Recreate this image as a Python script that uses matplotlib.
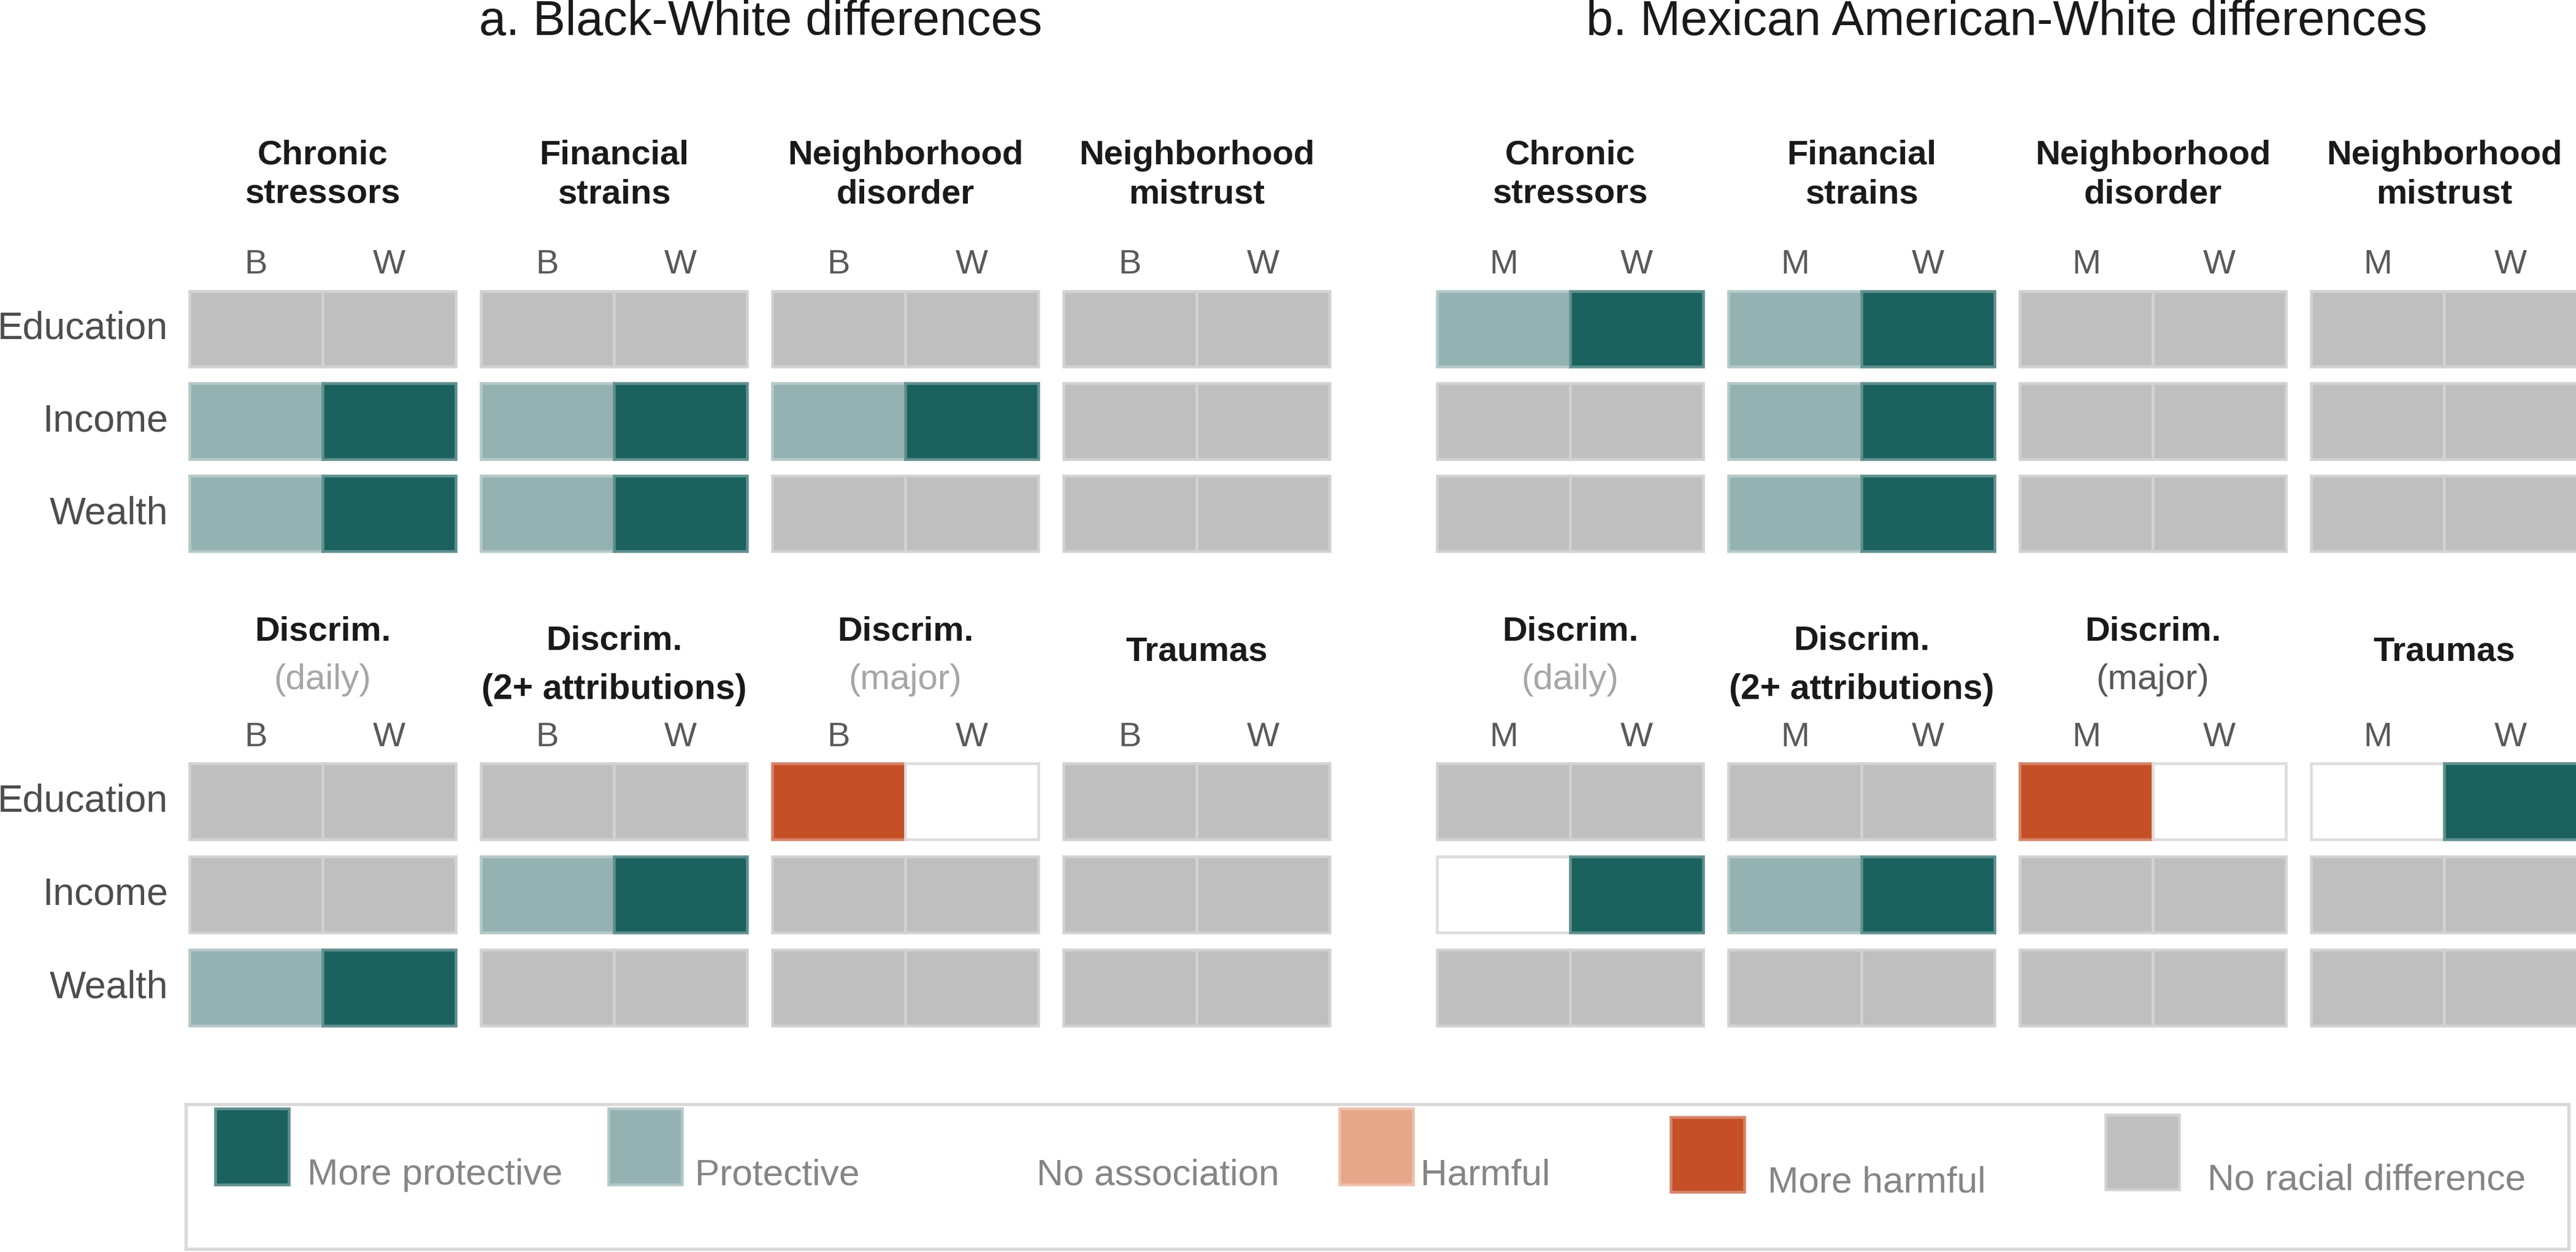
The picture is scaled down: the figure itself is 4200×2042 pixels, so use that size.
import matplotlib.pyplot as plt
import matplotlib.colors as mcolors

plt.rcParams['font.family'] = ['Liberation Sans', 'DejaVu Sans']

# legend categories
levels = ["mp", "p", "na", "h", "mh", "nd"]
level_labels = ["More protective", "Protective", "No association",
                "Harmful", "More harmful", "No racial difference"]
level_colors = ["#1B615E", "#94B2B1", "#FFFFFF", "#E5A68A", "#C54F27", "#BFBFBF"]

row_labels = ["Education", "Income", "Wealth"]
top_facets = ["Chronic\nstressors", "Financial\nstrains",
              "Neighborhood\ndisorder", "Neighborhood\nmistrust"]
bottom_titles = ["Discrim.", "Discrim.", "Discrim.", "Traumas"]
bottom_subtitles = ["(daily)", "(2+ attributions)", "(major)", ""]
panel_titles = ["a. Black-White differences",
                "b. Mexican American-White differences"]
bw_groups = ["B", "W"]
mw_groups = ["M", "W"]

# per facet: rows Education, Income, Wealth; columns minority group, White
bw_top = [
    [["nd", "nd"], ["p", "mp"], ["p", "mp"]],
    [["nd", "nd"], ["p", "mp"], ["p", "mp"]],
    [["nd", "nd"], ["p", "mp"], ["nd", "nd"]],
    [["nd", "nd"], ["nd", "nd"], ["nd", "nd"]],
]
bw_bottom = [
    [["nd", "nd"], ["nd", "nd"], ["p", "mp"]],
    [["nd", "nd"], ["p", "mp"], ["nd", "nd"]],
    [["mh", "na"], ["nd", "nd"], ["nd", "nd"]],
    [["nd", "nd"], ["nd", "nd"], ["nd", "nd"]],
]
mw_top = [
    [["p", "mp"], ["nd", "nd"], ["nd", "nd"]],
    [["p", "mp"], ["p", "mp"], ["p", "mp"]],
    [["nd", "nd"], ["nd", "nd"], ["nd", "nd"]],
    [["nd", "nd"], ["nd", "nd"], ["nd", "nd"]],
]
mw_bottom = [
    [["nd", "nd"], ["na", "mp"], ["nd", "nd"]],
    [["nd", "nd"], ["p", "mp"], ["nd", "nd"]],
    [["mh", "na"], ["nd", "nd"], ["nd", "nd"]],
    [["na", "mp"], ["nd", "nd"], ["nd", "nd"]],
]

W, H = 4200, 2042
fig = plt.figure(figsize=(W / 300, H / 300), dpi=300)


def tint(c, f):
    r, g, b = mcolors.to_rgb(c)
    return (r + (1 - r) * f, g + (1 - g) * f, b + (1 - b) * f)


def edge_for(code):
    if code == "na":
        return "#DDDDDD"
    return tint(level_colors[levels.index(code)], 0.3)


def px_axes(left, top, width, height):
    return fig.add_axes([left / W, 1 - (top + height) / H, width / W, height / H])


def draw_facet(ax, cells, groups, bw_off):
    for i, row in enumerate(cells):
        for j, code in enumerate(row):
            ax.bar(j + 0.5, 0.82, bottom=i + 0.09, width=1.0,
                   color=level_colors[levels.index(code)],
                   edgecolor=edge_for(code), linewidth=1.1, clip_on=False)
    ax.set_xlim(0, 2)
    ax.set_ylim(3, 0)
    ax.axis("off")
    for j, g in enumerate(groups):
        ax.annotate(g, xy=(j + 0.5, 1), xycoords=("data", "axes fraction"),
                    xytext=(0, bw_off), textcoords="offset points",
                    ha="center", va="center", fontsize=13.5, color="#595959")


def header(ax, text, off, **kw):
    ax.annotate(text, xy=(0.5, 1), xycoords="axes fraction",
                xytext=(0, off), textcoords="offset points",
                ha="center", va="center", **kw)


panel_x0 = [309, 2343]
pitch, cell_w = 475, 434
top_y, top_h = 461, 452
bot_y, bot_h = 1231, 456
sub_colors = [["#A6A6A6", "#1A1A1A", "#A6A6A6", "#A6A6A6"],
              ["#A6A6A6", "#1A1A1A", "#595959", "#A6A6A6"]]

for p, (tops, bots, groups) in enumerate([(bw_top, bw_bottom, bw_groups),
                                          (mw_top, mw_bottom, mw_groups)]):
    for c in range(4):
        left = panel_x0[p] + c * pitch
        ax = px_axes(left, top_y, cell_w, top_h)
        draw_facet(ax, tops[c], groups, 7)
        header(ax, top_facets[c], 42, fontsize=13.5, fontweight="bold",
               color="#1A1A1A", linespacing=1.3)
        if p == 0 and c == 0:
            for i, lab in enumerate(row_labels):
                ax.annotate(lab, xy=(0, i + 0.5), xycoords="data",
                            xytext=(-8.4, 0), textcoords="offset points",
                            ha="right", va="center", fontsize=15, color="#4D4D4D")

        ax = px_axes(left, bot_y, cell_w, bot_h)
        draw_facet(ax, bots[c], groups, 6.7)
        if bottom_subtitles[c]:
            shift = -3.8 if c == 1 else 0
            header(ax, bottom_titles[c], 48.2 + shift, fontsize=13.5,
                   fontweight="bold", color="#1A1A1A")
            bold = c == 1
            header(ax, bottom_subtitles[c], 29.3 + shift,
                   fontsize=13.7 if bold else 14,
                   fontweight="bold" if bold else "normal",
                   color=sub_colors[p][c])
        else:
            header(ax, bottom_titles[c], 40.3, fontsize=13.5,
                   fontweight="bold", color="#1A1A1A")
        if p == 0 and c == 0:
            for i, lab in enumerate(row_labels):
                ax.annotate(lab, xy=(0, i + 0.5), xycoords="data",
                            xytext=(-8.4, 0), textcoords="offset points",
                            ha="right", va="center", fontsize=15, color="#4D4D4D")

# panel titles
title_cx = [1240, 3272]
for p in range(2):
    fig.text(title_cx[p] / W, 1 - 57 / H, panel_titles[p], ha="center",
             va="baseline", fontsize=19, color="#1A1A1A")

# legend box
lax = px_axes(303, 1801, 3885, 236)
lax.set_xlim(303, 4188)
lax.set_ylim(2037, 1801)
lax.set_xticks([])
lax.set_yticks([])
for s in lax.spines.values():
    s.set_color("#D9D9D9")
    s.set_linewidth(1.3)

sw_left = [351, 992, 1560, 2184, 2724, 3433]
sw_top = [1808, 1808, 1808, 1808, 1822, 1818]
sw_bottom = [1932, 1932, 1932, 1932, 1944, 1940]
txt_x = [501, 1133, 1690, 2316, 2882, 3599]
for k, code in enumerate(levels):
    edge = "none" if code == "na" else edge_for(code)
    lax.bar(sw_left[k], sw_bottom[k] - sw_top[k], bottom=sw_top[k], width=120,
            align="edge", color=level_colors[k], edgecolor=edge, linewidth=1.1)
    lax.text(txt_x[k], sw_bottom[k], level_labels[k], ha="left", va="baseline",
             fontsize=14.5, color="#858585")

fig.savefig("out.png", dpi=300)
